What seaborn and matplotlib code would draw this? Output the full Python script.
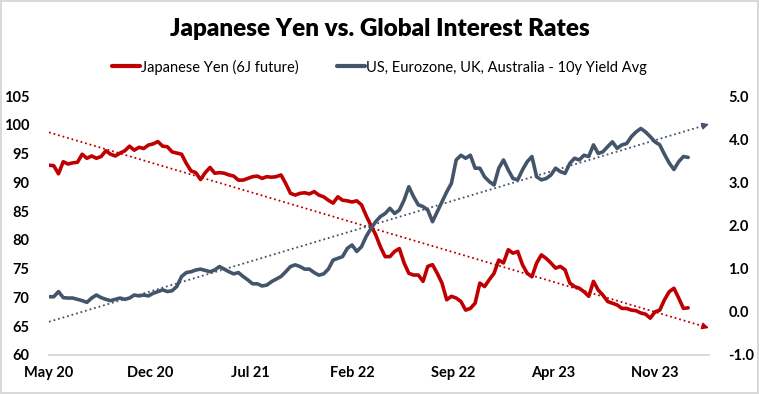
import matplotlib
matplotlib.use("Agg")
import matplotlib.pyplot as plt
import matplotlib.dates as mdates
from matplotlib.lines import Line2D
import seaborn as sns
import numpy as np
import pandas as pd

start_date = "2020-05-01"
axis_end = "2024-02-24"

yen = [93.0, 92.9, 91.5, 93.6, 93.2, 93.4, 93.5, 94.9, 94.2, 94.6,
       94.2, 94.5, 95.5, 94.9, 94.6, 95.1, 95.5, 96.3, 95.6, 96.1,
       95.9, 96.5, 96.7, 97.1, 96.3, 96.2, 95.3, 95.1, 94.9, 93.3,
       92.0, 91.7, 90.5, 91.7, 92.6, 91.6, 91.7, 91.6, 91.3, 91.1,
       90.4, 90.4, 90.7, 91.0, 91.1, 90.7, 91.0, 90.9, 91.0, 91.3,
       89.8, 88.1, 87.8, 88.1, 88.2, 88.0, 88.4, 87.8, 87.5, 86.9,
       86.4, 87.5, 86.9, 86.8, 86.6, 86.8, 86.1, 84.2, 82.5, 80.9,
       78.8, 77.1, 77.1, 78.0, 78.5, 76.0, 74.2, 73.9, 73.9, 72.8,
       75.4, 75.7, 74.2, 72.5, 69.6, 70.2, 69.9, 69.3, 67.8, 68.1,
       69.0, 72.5, 71.9, 73.1, 74.2, 76.5, 76.0, 78.3, 77.7, 78.0,
       75.7, 74.2, 73.6, 76.0, 77.4, 76.8, 76.0, 75.1, 75.4, 74.8,
       72.5, 71.9, 71.6, 71.0, 70.2, 72.8, 71.3, 70.4, 69.3, 69.0,
       68.7, 68.1, 68.1, 67.8, 67.7, 67.3, 67.1, 66.4, 67.5, 67.8,
       69.6, 71.0, 71.6, 69.9, 68.1, 68.2]

yields = [0.35, 0.35, 0.47, 0.33, 0.32, 0.32, 0.29, 0.26, 0.22, 0.32,
          0.39, 0.33, 0.29, 0.26, 0.29, 0.32, 0.29, 0.32, 0.39, 0.37,
          0.39, 0.37, 0.43, 0.47, 0.51, 0.47, 0.49, 0.59, 0.82, 0.91,
          0.93, 0.97, 0.99, 0.96, 0.93, 0.97, 1.05, 0.99, 0.93, 0.88,
          0.91, 0.82, 0.74, 0.65, 0.65, 0.60, 0.62, 0.70, 0.76, 0.82,
          0.93, 1.05, 1.09, 1.05, 0.99, 0.99, 0.91, 0.85, 0.88, 0.99,
          1.20, 1.24, 1.28, 1.47, 1.55, 1.40, 1.51, 1.75, 1.93, 2.09,
          2.21, 2.28, 2.40, 2.28, 2.36, 2.59, 2.90, 2.67, 2.48, 2.44,
          2.36, 2.09, 2.32, 2.55, 2.78, 2.98, 3.52, 3.63, 3.56, 3.63,
          3.33, 3.33, 3.13, 3.02, 2.94, 3.33, 3.52, 3.29, 3.09, 3.06,
          3.29, 3.48, 3.60, 3.13, 3.06, 3.09, 3.17, 3.33, 3.25, 3.21,
          3.44, 3.56, 3.52, 3.63, 3.60, 3.87, 3.67, 3.71, 3.83, 3.94,
          3.79, 3.87, 3.90, 4.06, 4.17, 4.25, 4.17, 4.06, 3.94, 3.87,
          3.65, 3.45, 3.30, 3.48, 3.60, 3.58]

tick_dates = ["2020-05-01", "2020-12-01", "2021-07-01", "2022-02-01",
              "2022-09-01", "2023-04-01", "2023-11-01"]

red = "#C00000"
slate = "#44546A"

df = pd.DataFrame({
    "date": pd.date_range(start_date, periods=len(yen), freq="10D"),
    "yen": yen,
    "yield": yields,
})

sns.set_style("white")
plt.rcParams["font.family"] = ["Lato", "DejaVu Sans"]
plt.rcParams["text.color"] = "black"
plt.rcParams["xtick.color"] = "black"
plt.rcParams["ytick.color"] = "black"

fig = plt.figure(figsize=(7.59, 3.94), dpi=100)
fig.patch.set_edgecolor("#d9d9d9")
fig.patch.set_linewidth(1.5)
ax = fig.add_axes([0.0646, 0.099, 0.8695, 0.657])
ax2 = ax.twinx()

sns.lineplot(data=df, x="date", y="yen", color=red, lw=2.6, ax=ax)
sns.lineplot(data=df, x="date", y="yield", color=slate, lw=2.6, ax=ax2)

# linear trend lines, extended forward like the Excel forecast
xnum = mdates.date2num(df["date"])
x_end = mdates.date2num(pd.Timestamp(axis_end))
for axis, col, colr in [(ax, "yen", red), (ax2, "yield", slate)]:
    m, b = np.polyfit(xnum, df[col], 1)
    xs = np.array([xnum[0], x_end - 6])
    axis.plot(xs, m * xs + b, color=colr, lw=1.3, ls=(0, (1, 1.6)))
    axis.annotate("", xy=(x_end, m * x_end + b),
                  xytext=(x_end - 8, m * (x_end - 8) + b),
                  arrowprops=dict(arrowstyle="-|>", color=colr, lw=1,
                                  mutation_scale=10, shrinkA=0, shrinkB=0))

ax.set_xlim(xnum[0], x_end)
ax.set_ylim(60, 105)
ax2.set_ylim(-1, 5)
ax.set_yticks(np.arange(60, 106, 5))
ax2.set_yticks(np.arange(-1, 5.1, 1))
ax2.yaxis.set_major_formatter(matplotlib.ticker.FormatStrFormatter("%.1f"))
ax.set_xticks(pd.to_datetime(tick_dates))
ax.xaxis.set_major_formatter(mdates.DateFormatter("%b %y"))

for a in (ax, ax2):
    a.set_xlabel("")
    a.set_ylabel("")
    for s in ["top", "left", "right"]:
        a.spines[s].set_visible(False)
    a.spines["bottom"].set_color("#d9d9d9")
    a.spines["bottom"].set_linewidth(1.2)
    a.tick_params(axis="y", length=0, labelsize=10.5, pad=14)
    for lab in a.get_yticklabels():
        lab.set_fontweight("bold")
ax.tick_params(axis="x", length=5, color="#d9d9d9", width=1.2,
               labelsize=10.5, pad=3, labelcolor="black")
for lab in ax.get_xticklabels():
    lab.set_fontweight("bold")

fig.suptitle("Japanese Yen vs. Global Interest Rates", y=0.955,
             fontsize=17.5, fontweight="heavy")

handles = [Line2D([], [], color=red, lw=3),
           Line2D([], [], color=slate, lw=3)]
labels = ["Japanese Yen (6J future)",
          "US, Eurozone, UK, Australia - 10y Yield Avg"]
fig.legend(handles, labels, loc="center", bbox_to_anchor=(0.5, 0.83),
           ncol=2, frameon=False, handlelength=1.9,
           handletextpad=0.1, columnspacing=2.6,
           prop={"weight": "normal", "size": 10.5})

fig.savefig("out.png", dpi=100)
